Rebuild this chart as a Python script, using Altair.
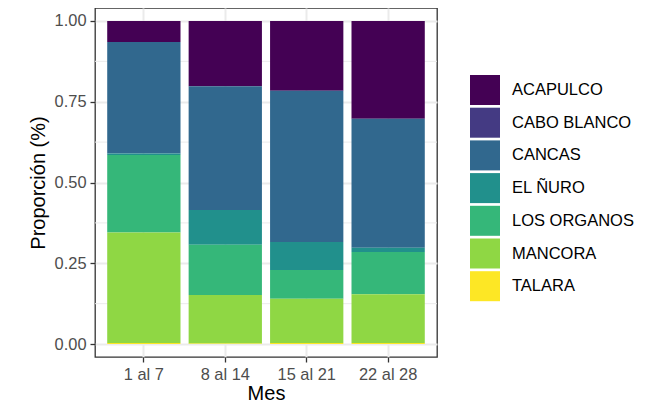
import pandas as pd
import altair as alt

# semanas del mes y proporciones por caleta (lectura del grafico)
semanas = ["1 al 7", "8 al 14", "15 al 21", "22 al 28"]
caletas = ["ACAPULCO", "CABO BLANCO", "CANCAS", "EL ÑURO",
           "LOS ORGANOS", "MANCORA", "TALARA"]
acapulco = [0.065, 0.202, 0.216, 0.303]
cabo_blanco = [0.0, 0.0, 0.0, 0.0]
cancas = [0.345, 0.383, 0.468, 0.399]
el_nuro = [0.005, 0.108, 0.087, 0.013]
los_organos = [0.240, 0.155, 0.089, 0.131]
mancora = [0.342, 0.150, 0.137, 0.151]
talara = [0.003, 0.002, 0.003, 0.003]

viridis = ["#440154", "#443A83", "#31688E", "#21908C",
           "#35B779", "#8FD744", "#FDE725"]
minor_breaks = [0.125, 0.375, 0.625, 0.875]

series = [acapulco, cabo_blanco, cancas, el_nuro, los_organos, mancora, talara]
rows = []
for i, (nombre, vals) in enumerate(zip(caletas, series)):
    for s, v in zip(semanas, vals):
        rows.append({"Mes": s, "caleta": nombre, "prop": v, "orden": i})
df = pd.DataFrame(rows)
minor_df = pd.DataFrame({"v": minor_breaks})

font = "Liberation Sans"
yscale = alt.Scale(domain=[-0.04, 1.04], nice=False, zero=False)
yaxis = alt.Axis(values=[0, 0.25, 0.5, 0.75, 1], format=".2f",
                 title="Proporción (%)", titlePadding=6)

minor = alt.Chart(minor_df).mark_rule(color="#EBEBEB", strokeWidth=1).encode(
    y=alt.Y("v:Q", scale=yscale, axis=yaxis)
)

bars = alt.Chart(df).mark_bar().encode(
    x=alt.X("Mes:N", sort=semanas,
            scale=alt.Scale(paddingInner=0.1, paddingOuter=0.15),
            axis=alt.Axis(labelAngle=0, bandPosition=0.5, title="Mes",
                          titlePadding=1)),
    y=alt.Y("prop:Q", stack="normalize", scale=yscale, axis=yaxis),
    color=alt.Color("caleta:N",
                    scale=alt.Scale(domain=caletas, range=viridis),
                    legend=alt.Legend(title=None, orient="none",
                                      legendX=375, legendY=67,
                                      symbolType="square", symbolSize=900,
                                      symbolStrokeWidth=0, rowPadding=2.7,
                                      labelOffset=12, labelFontSize=16.5,
                                      labelColor="black", labelFont=font,
                                      padding=0)),
    order=alt.Order("orden:Q", sort="descending"),
)

chart = alt.layer(minor, bars).properties(
    width=342,
    height=349,
    autosize=alt.AutoSizeParams(type="none"),
    padding={"left": 87, "top": 0, "right": 215, "bottom": 47},
    background="white",
).configure_view(
    stroke="#333333", strokeWidth=1.3
).configure_axis(
    domain=False,
    grid=True,
    gridColor="#EBEBEB",
    gridWidth=2,
    tickColor="#333333",
    tickWidth=1.3,
    tickSize=5,
    labelPadding=4,
    labelFont=font,
    labelFontSize=16.4,
    labelColor="#4D4D4D",
    titleFont=font,
    titleFontSize=20,
    titleFontWeight="normal",
    titleColor="black",
)

chart.save("out.html", embed_options={"renderer": "svg", "actions": False})
